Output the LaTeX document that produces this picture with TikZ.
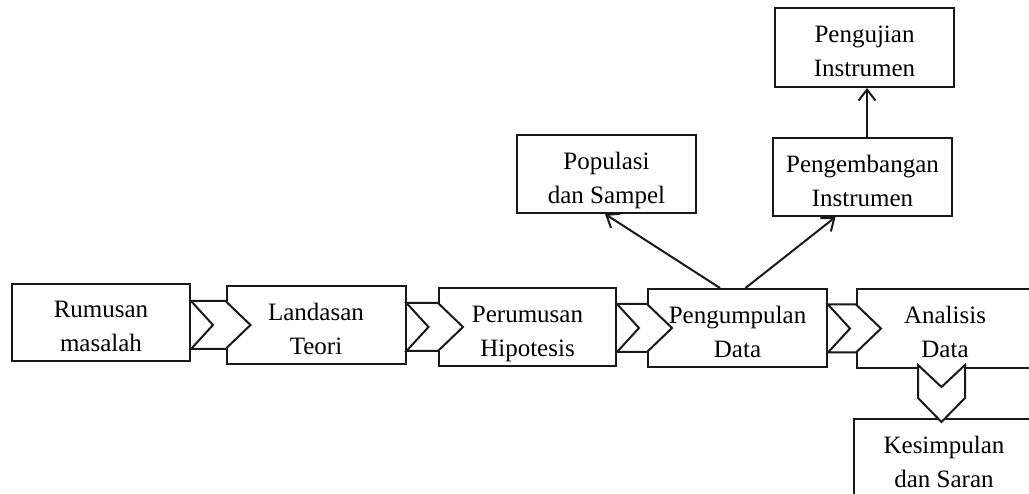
\documentclass[tikz,border=0pt]{standalone}
\usepackage{fontspec}
\setmainfont{Liberation Serif}
\usetikzlibrary{arrows.meta,calc}
\newcommand\tx[2]{\rule{0pt}{30pt}#1\\#2\rule[-5pt]{0pt}{5pt}}
\newcommand\hchev[2]{%
  \coordinate (cT) at (#1.east |- #2.west);
  \draw[chevr] ([yshift=24pt]cT) -- ([yshift=24pt]#2.west) -- ([xshift=25pt]#2.west)
    -- ([yshift=-24pt]#2.west) -- ([yshift=-24pt]cT) -- ([xshift=22pt]cT) -- cycle;}
\begin{document}
\begin{tikzpicture}[x=1pt,y=-1pt,
  box/.style={draw=black!90, line width=2pt, fill=white, inner sep=0pt, align=center,
    font=\fontsize{25}{34}\selectfont, text=black},
  chevr/.style={draw=black!90, fill=white, line width=2pt, line join=miter},
  arr/.style={draw=black!90, line width=2pt, -{Straight Barb[length=11pt,width=17pt,line width=2pt]}}]
\useasboundingbox (0,0) rectangle (1029,494);
\fill[white] (0,0) rectangle (1029,494);
\clip (0,0) rectangle (1029,494);

\node[box, minimum width=178pt, minimum height=77pt] (rm) at (101,322.5) {\tx{Rumusan}{masalah}};
\node[box, minimum width=179pt, minimum height=78pt] (lt) at (316,325) {\tx{Landasan}{Teori}};
\node[box, minimum width=177pt, minimum height=78pt] (ph) at (527.5,327) {\tx{Perumusan}{Hipotesis}};
\node[box, minimum width=179pt, minimum height=78pt] (pd) at (737.5,328) {\tx{Pengumpulan}{Data}};
\node[box, minimum width=176pt, minimum height=79pt] (ad) at (945,328.5) {\tx{Analisis}{Data}};
\node[box, minimum width=180pt, minimum height=78pt] (ks) at (944,458) {\tx{Kesimpulan}{dan Saran}};
\node[box, minimum width=179pt, minimum height=78pt] (ps) at (606.5,174) {\tx{Populasi}{dan Sampel}};
\node[box, minimum width=179pt, minimum height=78pt] (pi) at (862.5,177) {\tx{Pengembangan}{Instrumen}};
\node[box, minimum width=179pt, minimum height=79pt] (ui) at (864.5,47.5) {\tx{Pengujian}{Instrumen}};

\hchev{rm}{lt}
\hchev{lt}{ph}
\hchev{ph}{pd}
\hchev{pd}{ad}

% downward chevron from Analisis Data to Kesimpulan dan Saran
\coordinate (dS) at (ad.south);
\fill[white] ($(dS)+(-27,-4)$) -- ($(dS)+(-27,29)$) -- ($(dS)+(-3.5,53)$) -- ($(dS)+(20,29)$) -- ($(dS)+(20,-4)$) -- cycle;
\draw[chevr, fill=none] ($(dS)+(-27,-4)$) -- ($(dS)+(-27,29)$) -- ($(dS)+(-3.5,53)$) -- ($(dS)+(20,29)$) -- ($(dS)+(20,-4)$) -- ($(dS)+(-3.5,18)$) -- cycle;

\draw[arr] ([xshift=-17.5pt]pd.north) -- ([xshift=-1.5pt]ps.south);
\draw[arr] ([xshift=8pt]pd.north) -- ([xshift=-27pt]pi.south);
\draw[arr] ([xshift=4.5pt]pi.north) -- ([xshift=4.5pt]pi.north |- ui.south);
\end{tikzpicture}
\end{document}
